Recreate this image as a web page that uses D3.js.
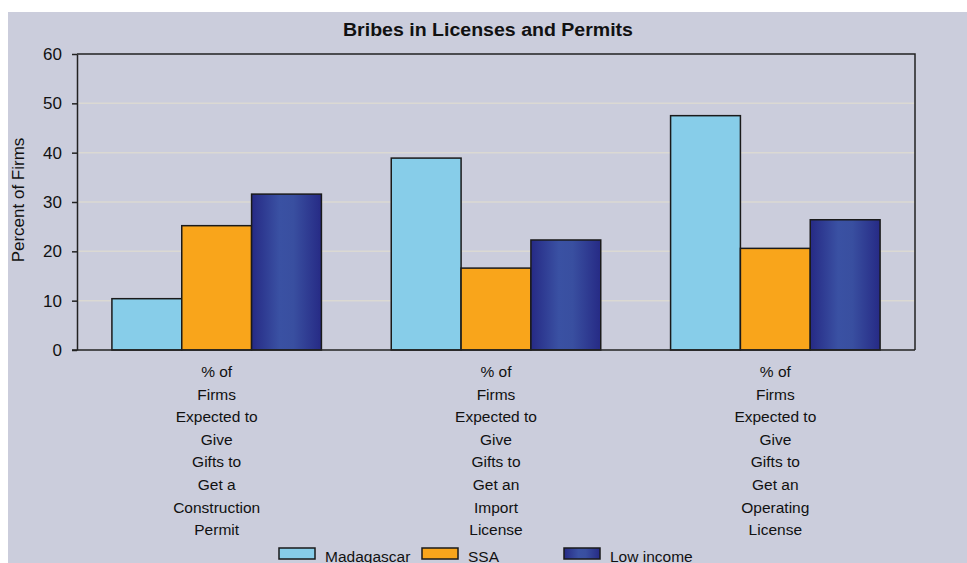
<!DOCTYPE html>
<html>
  <head>
    <meta charset="utf-8">
    <title>Bribes in Licenses and Permits</title>
    <script src="https://cdn.jsdelivr.net/npm/d3@7"></script>
    <style>
      body { margin: 0; background: #fff; }
      text { font-family: "Liberation Sans", Arial, sans-serif; fill: #111; }
    </style>
  </head>
  <body>
    <div id="grafica"></div>
    <script>
      // chart data
      var categories = ["Construction Permit", "Import License", "Operating License"];
      var tickLines = [
        ["% of", "Firms", "Expected to", "Give", "Gifts to", "Get a", "Construction", "Permit"],
        ["% of", "Firms", "Expected to", "Give", "Gifts to", "Get an", "Import", "License"],
        ["% of", "Firms", "Expected to", "Give", "Gifts to", "Get an", "Operating", "License"]
      ];
      var seriesNames = ["Madagascar", "SSA", "Low income"];
      var madagascar = [10.4, 38.9, 47.5];
      var ssa = [25.2, 16.6, 20.6];
      var lowIncome = [31.6, 22.3, 26.4];
      var yTicks = [0, 10, 20, 30, 40, 50, 60];

      var seriesValues = [madagascar, ssa, lowIncome];
      var colors = ["#87cde9", "#f9a51b", "url(#lowGrad)"];

      var W = 967, H = 563;
      var plotL = 77, plotR = 915, plotT = 54, plotB = 350;

      var svg = d3.select("#grafica").append("svg")
          .attr("width", W)
          .attr("height", H);

      // gradient for the low income bars
      var grad = svg.append("defs").append("linearGradient")
          .attr("id", "lowGrad")
          .attr("x1", "0%").attr("x2", "100%").attr("y1", "0%").attr("y2", "0%");
      grad.append("stop").attr("offset", "0%").attr("stop-color", "#262a85");
      grad.append("stop").attr("offset", "40%").attr("stop-color", "#3a51a3");
      grad.append("stop").attr("offset", "60%").attr("stop-color", "#394fa0");
      grad.append("stop").attr("offset", "100%").attr("stop-color", "#262a85");

      svg.append("rect")
          .attr("x", 8).attr("y", 12)
          .attr("width", W - 8).attr("height", H - 12)
          .attr("fill", "#cbcddc");

      var x0 = d3.scaleBand()
          .domain(categories)
          .range([plotL, plotR])
          .paddingInner(0.25)
          .paddingOuter(0.125);

      var x1 = d3.scaleBand()
          .domain(seriesNames)
          .range([0, x0.bandwidth()]);

      var y = d3.scaleLinear()
          .domain([0, 60])
          .range([plotB, plotT]);

      // grid lines
      svg.append("g")
          .selectAll("line")
          .data(yTicks.filter(function(d) { return d > 0 && d < 60; }))
          .enter().append("line")
          .attr("x1", plotL + 1).attr("x2", plotR)
          .attr("y1", function(d) { return y(d); })
          .attr("y2", function(d) { return y(d); })
          .attr("stroke", "#dbd9d3")
          .attr("stroke-width", 1.5);

      // top and right frame
      svg.append("path")
          .attr("d", "M" + plotL + "," + y(60) + "H" + plotR + "V" + y(0))
          .attr("fill", "none")
          .attr("stroke", "#222")
          .attr("stroke-width", 1.5);

      // bars
      var group = svg.selectAll(".grp")
          .data(categories)
          .enter().append("g")
          .attr("class", "grp")
          .attr("transform", function(d) { return "translate(" + x0(d) + ",0)"; });

      group.selectAll("rect")
          .data(function(d, i) {
            return seriesNames.map(function(s, j) { return {s: s, j: j, v: seriesValues[j][i]}; });
          })
          .enter().append("rect")
          .attr("x", function(d) { return x1(d.s); })
          .attr("width", x1.bandwidth())
          .attr("y", function(d) { return y(d.v); })
          .attr("height", function(d) { return y(0) - y(d.v); })
          .attr("fill", function(d) { return colors[d.j]; })
          .attr("stroke", "#1a1a1a")
          .attr("stroke-width", 1.5);

      // y axis
      var yAxis = svg.append("g")
          .attr("transform", "translate(" + plotL + ",0)")
          .call(d3.axisLeft(y).tickValues(yTicks).tickSize(5).tickSizeOuter(0).tickPadding(10));
      yAxis.selectAll("path, line").attr("stroke", "#222").attr("stroke-width", 1.5);
      yAxis.selectAll("text")
          .style("font-family", "Liberation Sans, Arial, sans-serif")
          .style("font-size", "17px")
          .attr("fill", "#111");

      // x axis line
      svg.append("line")
          .attr("x1", plotL - 5).attr("x2", plotR)
          .attr("y1", y(0)).attr("y2", y(0))
          .attr("stroke", "#222")
          .attr("stroke-width", 1.5);

      // x tick labels
      var xl = svg.selectAll(".xl")
          .data(categories)
          .enter().append("text")
          .attr("class", "xl")
          .attr("text-anchor", "middle")
          .style("font-size", "15.5px");
      xl.selectAll("tspan")
          .data(function(d, i) { return tickLines[i]; })
          .enter().append("tspan")
          .attr("x", function() { return x0(d3.select(this.parentNode).datum()) + x0.bandwidth() / 2; })
          .attr("y", function(d, k) { return 377 + k * 22.6; })
          .text(function(d) { return d; });

      // title
      svg.append("text")
          .attr("x", 488).attr("y", 36)
          .attr("text-anchor", "middle")
          .attr("textLength", 290)
          .attr("lengthAdjust", "spacingAndGlyphs")
          .style("font-size", "18px")
          .style("font-weight", "bold")
          .text("Bribes in Licenses and Permits");

      // y label
      svg.append("text")
          .attr("transform", "translate(24,200) rotate(-90)")
          .attr("text-anchor", "middle")
          .style("font-size", "17px")
          .text("Percent of Firms");

      // legend
      var legX = [279, 422, 564];
      var leg = svg.selectAll(".leg")
          .data(seriesNames)
          .enter().append("g")
          .attr("class", "leg")
          .attr("transform", function(d, i) { return "translate(" + legX[i] + ",548)"; });
      leg.append("rect")
          .attr("width", 36).attr("height", 11)
          .attr("fill", function(d, i) { return colors[i]; })
          .attr("stroke", "#1a1a1a")
          .attr("stroke-width", 1.5);
      leg.append("text")
          .attr("x", 46).attr("y", 14)
          .style("font-size", "15.5px")
          .text(function(d) { return d; });
    </script>
  </body>
</html>
